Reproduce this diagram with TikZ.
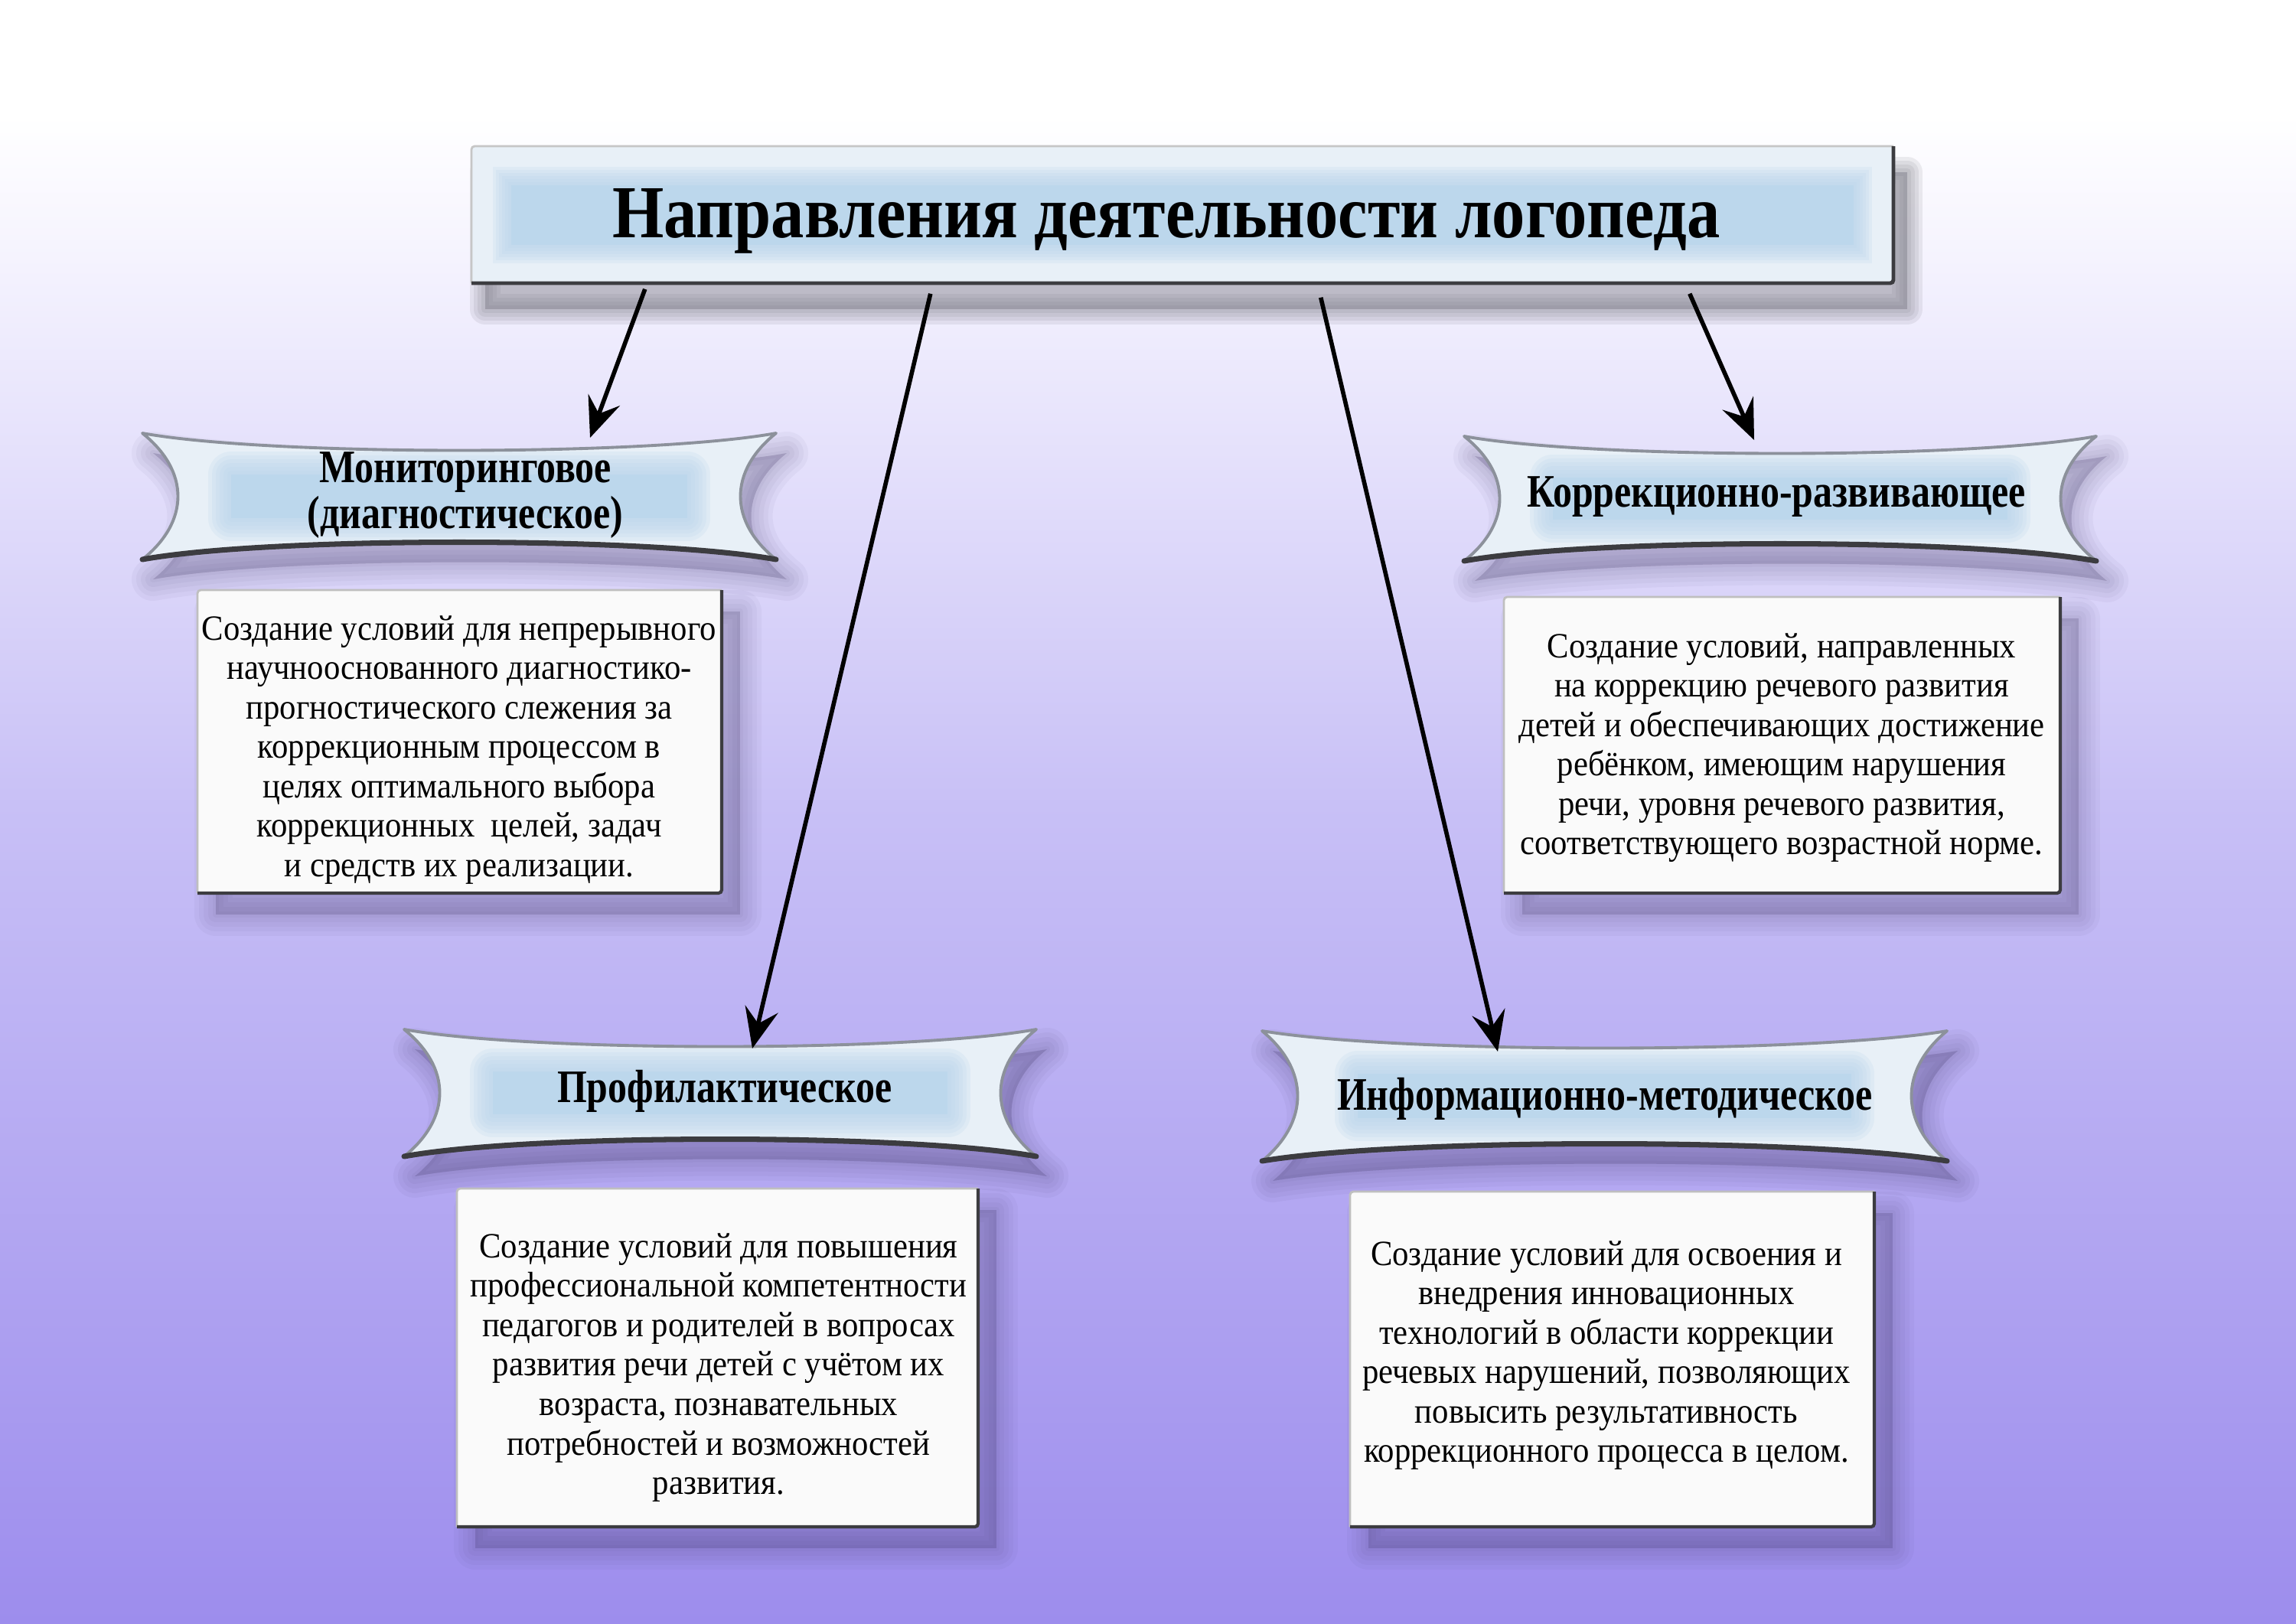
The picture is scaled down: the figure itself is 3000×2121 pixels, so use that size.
\documentclass[tikz,border=0pt]{standalone}
\usepackage{fontspec}
\setmainfont{Liberation Serif}
\newfontfamily\bodyfont[FakeStretch=0.92]{Liberation Serif}
\newfontfamily\ribfont[FakeStretch=0.82]{Liberation Serif}
\newfontfamily\titlefont[FakeStretch=0.885]{Liberation Serif}
\usetikzlibrary{arrows.meta,calc}
\definecolor{bgB}{RGB}{244,242,254}
\definecolor{bgC}{RGB}{200,192,246}
\definecolor{bgD}{RGB}{157,141,237}
\definecolor{frost}{RGB}{232,240,247}
\definecolor{iceblue}{RGB}{188,215,236}
\definecolor{boxfill}{RGB}{250,250,250}
\definecolor{bevel}{RGB}{60,60,64}
\definecolor{edgegray}{RGB}{140,145,155}
\definecolor{shadowc}{RGB}{55,45,90}
\definecolor{tshadow}{RGB}{120,120,130}

\tikzset{
  bodytext/.style={font=\bodyfont\fontsize{13.2}{14.65}\selectfont, align=center, text=black},
  ribtext/.style={font=\ribfont\bfseries\fontsize{17.3}{17}\selectfont, align=center, text=black},
  titletext/.style={font=\titlefont\bfseries\fontsize{27.8}{30}\selectfont, text=black},
  titlebox/.style={minimum width=18.58cm, minimum height=1.79cm, inner sep=0pt},
  arr/.style={line width=1.6pt, -{Stealth[length=15pt,width=12.5pt,inset=5.5pt]}},
}

% ribbon: #1 x0, #2 y0, #3 x1, #4 y1
\newcommand\ribbon[4]{%
  \begin{scope}[shift={(14,26)}]
    \foreach \w in {56,44,32,20,8}{%
      \path[fill=shadowc, fill opacity=0.045, draw=shadowc, draw opacity=0.045,
        line width=\w*0.2845pt, line join=round]
      (#1,#2) .. controls ({#1+0.2*(#3-#1)},{#2+30}) and ({#3-0.2*(#3-#1)},{#2+30}) .. (#3,#2)
      .. controls ({#3-62},{#2+0.3*(#4-#2)}) and ({#3-62},{#2+0.7*(#4-#2)}) .. (#3,#4)
      .. controls ({#3-0.2*(#3-#1)},{#4-30}) and ({#1+0.2*(#3-#1)},{#4-30}) .. (#1,#4)
      .. controls ({#1+62},{#2+0.7*(#4-#2)}) and ({#1+62},{#2+0.3*(#4-#2)}) .. cycle;}
  \end{scope}
  \begin{scope}
    \clip (#1,#2) .. controls ({#1+0.2*(#3-#1)},{#2+30}) and ({#3-0.2*(#3-#1)},{#2+30}) .. (#3,#2)
      .. controls ({#3-62},{#2+0.3*(#4-#2)}) and ({#3-62},{#2+0.7*(#4-#2)}) .. (#3,#4)
      .. controls ({#3-0.2*(#3-#1)},{#4-30}) and ({#1+0.2*(#3-#1)},{#4-30}) .. (#1,#4)
      .. controls ({#1+62},{#2+0.7*(#4-#2)}) and ({#1+62},{#2+0.3*(#4-#2)}) .. cycle;
    \fill[frost] (#1,#2) rectangle (#3,#4);
    \fill[iceblue] ({#1+0.14*(#3-#1)},{#2+0.33*(#4-#2)}) rectangle ({#3-0.14*(#3-#1)},{#4-0.33*(#4-#2)});
    \foreach \w in {10,20,30,40,50,60}{%
      \draw[iceblue, draw opacity=0.22, line width=\w*0.2845pt, line join=round]
        ({#1+0.14*(#3-#1)},{#2+0.33*(#4-#2)}) rectangle ({#3-0.14*(#3-#1)},{#4-0.33*(#4-#2)});}
  \end{scope}
  \draw[edgegray, line width=1.1pt, line join=round]
      (#1,#2) .. controls ({#1+0.2*(#3-#1)},{#2+30}) and ({#3-0.2*(#3-#1)},{#2+30}) .. (#3,#2)
      .. controls ({#3-62},{#2+0.3*(#4-#2)}) and ({#3-62},{#2+0.7*(#4-#2)}) .. (#3,#4)
      .. controls ({#3-0.2*(#3-#1)},{#4-30}) and ({#1+0.2*(#3-#1)},{#4-30}) .. (#1,#4)
      .. controls ({#1+62},{#2+0.7*(#4-#2)}) and ({#1+62},{#2+0.3*(#4-#2)}) .. cycle;
  \draw[bevel, line width=2pt, line cap=round]
      (#3,#4) .. controls ({#3-0.2*(#3-#1)},{#4-30}) and ({#1+0.2*(#3-#1)},{#4-30}) .. (#1,#4);
}

% text box: #1 x0, #2 y0, #3 x1, #4 y1
\newcommand\textpanel[4]{%
  \begin{scope}[shift={(24,28)}]
    \foreach \w in {56,44,32,20,8}{%
      \path[fill=shadowc, fill opacity=0.04, draw=shadowc, draw opacity=0.04,
        line width=\w*0.2845pt, line join=round] (#1,#2) rectangle (#3,#4);}
  \end{scope}
  \fill[boxfill, rounded corners=1.2pt] (#1,#2) rectangle (#3,#4);
  \draw[gray!50, line width=0.8pt, rounded corners=1.2pt] (#3,#2) -- (#1,#2) -- (#1,#4);
  \draw[bevel, line width=1.2pt, rounded corners=1.2pt] (#1,#4) -- (#3,#4) -- (#3,#2);
}

\begin{document}
\begin{tikzpicture}[x=0.01cm, y=-0.01cm]
\useasboundingbox (0,0) rectangle (3000,2121);
% background
\fill[white] (0,0) rectangle (3000,152);
\shade[top color=white, bottom color=bgB] (0,150) rectangle (3000,352);
\shade[top color=bgB, bottom color=bgC] (0,350) rectangle (3000,1052);
\shade[top color=bgC, bottom color=bgD] (0,1050) rectangle (3000,2121);

% title box
\begin{scope}[shift={(18,34)}]
  \foreach \w in {40,30,20,10}{%
    \path[fill=tshadow, fill opacity=0.13, draw=tshadow, draw opacity=0.13,
      line width=\w*0.2845pt, line join=round] (616,191) rectangle (2474,370);}
\end{scope}
\begin{scope}
  \clip[rounded corners=1.2pt] (616,191) rectangle (2474,370);
  \fill[frost] (616,191) rectangle (2474,370);
  \fill[iceblue] (668,242) rectangle (2422,320);
  \foreach \w in {8,16,24,32,40,48}{%
    \draw[iceblue, draw opacity=0.22, line width=\w*0.2845pt] (668,242) rectangle (2422,320);}
\end{scope}
\draw[gray!45, line width=0.8pt, rounded corners=1.2pt] (2474,191) -- (616,191) -- (616,370);
\draw[bevel, line width=1.4pt, rounded corners=1.2pt] (616,370) -- (2474,370) -- (2474,191);
\node[titlebox] (title) at (1545,280.5) {};
\node[titletext] (titlelbl) at (1524,289) {Направления деятельности логопеда};

% ribbons
\ribbon{186}{566}{1014}{731}
\ribbon{1913}{570}{2739}{733}
\ribbon{528}{1345}{1354}{1511}
\ribbon{1649}{1347}{2544}{1517}
\node[ribtext] (r1) at (608,647) {Мониторинговое\\(диагностическое)};
\node[ribtext] (r2) at (2321,649) {Коррекционно-развивающее};
\node[ribtext] (r3) at (947,1426) {Профилактическое};
\node[ribtext] (r4) at (2097,1436) {Информационно-методическое};

% text panels
\textpanel{258}{771}{943}{1167}
\textpanel{1965}{780}{2692}{1167}
\textpanel{597}{1553}{1278}{1995}
\textpanel{1764}{1557}{2449}{1995}
\node[bodytext] (t1) at (600,980) {Создание условий для непрерывного\\научнооснованного диагностико-\\прогностического слежения за\\коррекционным процессом в\\целях оптимального выбора\\коррекционных\ \ целей, задач\\и средств их реализации.};
\node[bodytext] (t2) at (2328,977) {Создание условий, направленных\\на коррекцию речевого развития\\детей и обеспечивающих достижение\\ребёнком, имеющим нарушения\\речи, уровня речевого развития,\\соответствующего возрастной норме.};
\node[bodytext] (t3) at (939,1787) {Создание условий для повышения\\профессиональной компетентности\\педагогов и родителей в вопросах\\развития речи детей с учётом их\\возраста, познавательных\\потребностей и возможностей\\развития.};
\node[bodytext] (t4) at (2099,1771) {Создание условий для освоения и\\внедрения инновационных\\технологий в области коррекции\\речевых нарушений, позволяющих\\повысить результативность\\коррекционного процесса в целом.};

% connectors
\coordinate (a1s) at ($(title.south west)+(228,7)$);
\coordinate (a2s) at ($(title.south west)+(601,13)$);
\coordinate (a3s) at ($(title.south west)+(1111,18)$);
\coordinate (a4s) at ($(title.south west)+(1593,13)$);
\coordinate (a1e) at (771,572);
\coordinate (a2e) at (983,1370);
\coordinate (a3e) at (1957,1374);
\coordinate (a4e) at (2292,575);
\draw[arr] (a1s) -- (a1e);
\draw[arr] (a2s) -- (a2e);
\draw[arr] (a3s) -- (a3e);
\draw[arr] (a4s) -- (a4e);
\end{tikzpicture}
\end{document}
